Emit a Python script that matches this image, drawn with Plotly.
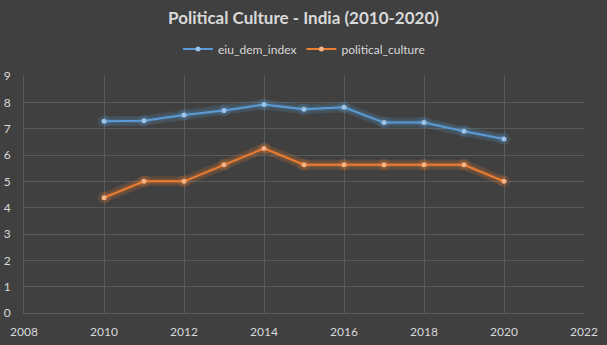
import plotly.graph_objects as go

years = [2010, 2011, 2012, 2013, 2014, 2015, 2016, 2017, 2018, 2019, 2020]
eiu_dem_index = [7.28, 7.30, 7.52, 7.69, 7.92, 7.74, 7.81, 7.23, 7.23, 6.90, 6.61]
political_culture = [4.38, 5.00, 5.00, 5.63, 6.25, 5.63, 5.63, 5.63, 5.63, 5.63, 5.00]

series = [
    ("eiu_dem_index", eiu_dem_index, "#5b9bd5", "#9cc3e6", "rgba(91,155,213,0.18)"),
    ("political_culture", political_culture, "#ed7d31", "#f4b183", "rgba(237,125,49,0.18)"),
]

fig = go.Figure()
for name, vals, col, mcol, glow in series:
    # soft glow
    fig.add_trace(go.Scatter(x=years, y=vals, mode="lines", line=dict(color=glow, width=10),
                             hoverinfo="skip", showlegend=False))
    fig.add_trace(go.Scatter(x=years, y=vals, mode="lines", line=dict(color=glow, width=5),
                             hoverinfo="skip", showlegend=False))
    fig.add_trace(go.Scatter(x=years, y=vals, mode="markers", marker=dict(color=glow, size=12),
                             hoverinfo="skip", showlegend=False))
    fig.add_trace(go.Scatter(x=years, y=vals, mode="lines+markers", name=name,
                             line=dict(color=col, width=2),
                             marker=dict(color=mcol, size=5, line=dict(width=0))))

fig.update_layout(
    width=607, height=345,
    paper_bgcolor="#404040", plot_bgcolor="#404040",
    margin=dict(l=24, r=23, t=76, b=32, autoexpand=False),
    font=dict(family="Lato, Open Sans, sans-serif", color="#d9d9d9", size=12),
    title=dict(text="<b>Political Culture - India (2010-2020)</b>", x=0.5, xanchor="center",
               y=1 - 18 / 345, yanchor="middle", font=dict(size=17, color="#d9d9d9")),
    legend=dict(orientation="h", x=0.5, xanchor="center", y=1.114, yanchor="middle",
                font=dict(size=12, color="#d9d9d9"), itemwidth=30, bgcolor="rgba(0,0,0,0)"),
    xaxis=dict(range=[2008, 2022], dtick=2, tick0=2008, showgrid=True, gridcolor="#5a5a5a",
               gridwidth=1, zeroline=False, showline=True, linecolor="#5a5a5a",
               ticks="", ticklabelstandoff=8, automargin=False),
    yaxis=dict(range=[0, 9], dtick=1, showgrid=True, gridcolor="#5a5a5a", gridwidth=1,
               zeroline=False, showline=True, linecolor="#5a5a5a", ticks="",
               ticklabelstandoff=10, automargin=False),
    showlegend=True,
)

fig.write_html("out.html")
